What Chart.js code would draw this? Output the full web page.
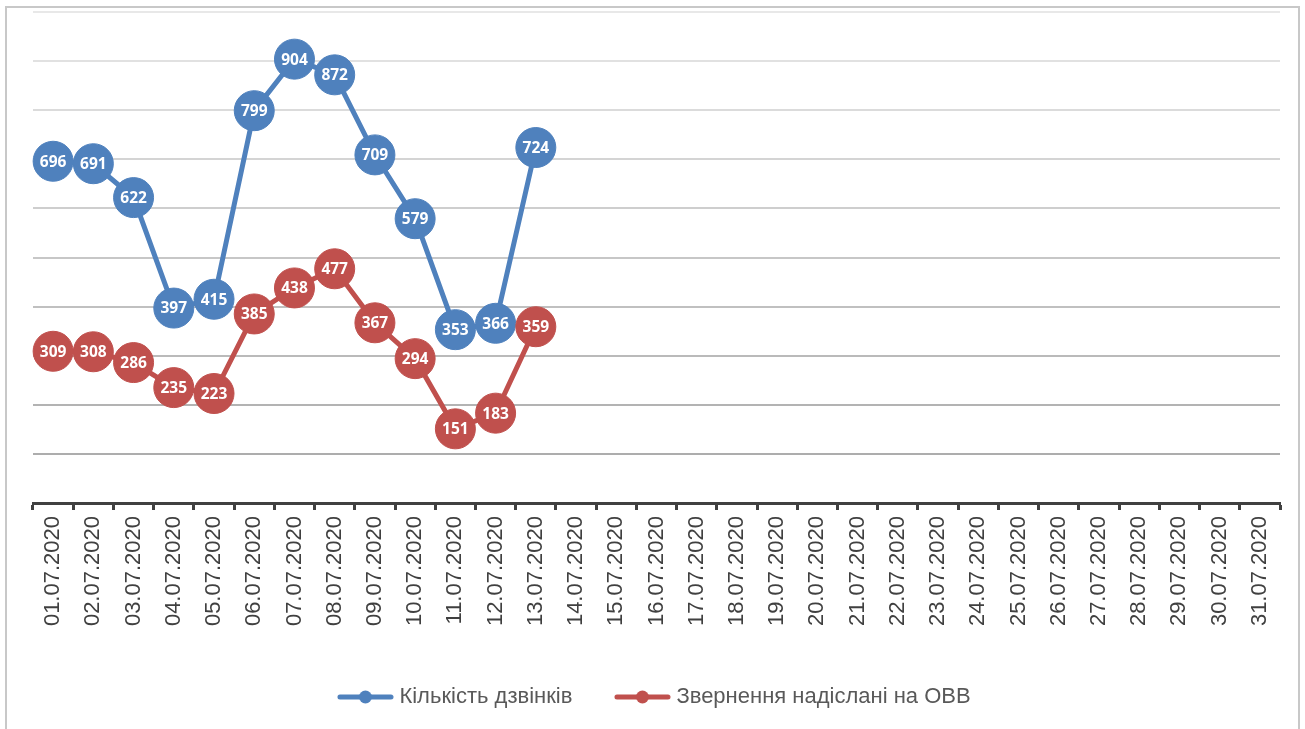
<!DOCTYPE html>
<html>
<head>
<meta charset="utf-8">
<script src="https://cdn.jsdelivr.net/npm/chart.js@4.4.0/dist/chart.umd.min.js"></script>
<style>
  html, body { margin: 0; padding: 0; background: #ffffff; }
  #wrap { position: relative; width: 1305px; height: 729px; overflow: hidden; }
  #frame { position: absolute; left: 5px; top: 6px; width: 1295px; height: 740px; border: 2px solid #c8c8c8; box-sizing: border-box; }
  canvas { position: absolute; left: 0; top: 0; }
</style>
</head>
<body>
<div id="wrap">
  <div id="frame"></div>
  <canvas id="c" width="1305" height="729"></canvas>
</div>
<script>
const categories = [];
for (let d = 1; d <= 31; d++) categories.push((d < 10 ? '0' + d : '' + d) + '.07.2020');

const seriesNames = ['Кількість дзвінків', 'Звернення надіслані на ОВВ'];
const calls = [696, 691, 622, 397, 415, 799, 904, 872, 709, 579, 353, 366, 724];
const referrals = [309, 308, 286, 235, 223, 385, 438, 477, 367, 294, 151, 183, 359];

const blue = '#4f81bd';
const red = '#c0504d';

function pad(arr) {
  const out = arr.slice();
  while (out.length < categories.length) out.push(null);
  return out;
}

function legendMarker(color) {
  const cv = document.createElement('canvas');
  cv.width = 57; cv.height = 16;
  const g = cv.getContext('2d');
  g.strokeStyle = color; g.lineWidth = 5; g.lineCap = 'round';
  g.beginPath(); g.moveTo(3, 8); g.lineTo(54, 8); g.stroke();
  g.fillStyle = color;
  g.beginPath(); g.arc(28.5, 8, 6.5, 0, Math.PI * 2); g.fill();
  return cv;
}
const markers = [legendMarker(blue), legendMarker(red)];

const valueLabels = {
  id: 'valueLabels',
  afterDatasetDraw(chart, args) {
    const ctx = chart.ctx;
    const ds = chart.data.datasets[args.index];
    const meta = args.meta;
    ctx.save();
    ctx.fillStyle = '#ffffff';
    ctx.font = 'bold 15.5px "Open Sans", "Liberation Sans", sans-serif';
    ctx.textAlign = 'center';
    ctx.textBaseline = 'middle';
    meta.data.forEach((pt, i) => {
      const v = ds.data[i];
      if (v === null || v === undefined) return;
      ctx.fillText(String(v), pt.x, pt.y + 1);
    });
    ctx.restore();
  }
};

function gridColor(ctx) {
  const v = ctx.tick ? ctx.tick.value : 0;
  if (v === 0) return 'rgba(0,0,0,0)';
  const t = v / 1000;
  const c = Math.round(166 + (232 - 166) * t);
  return 'rgb(' + c + ',' + c + ',' + c + ')';
}

new Chart(document.getElementById('c'), {
  type: 'line',
  data: {
    labels: categories,
    datasets: [
      {
        label: seriesNames[0],
        data: pad(calls),
        borderColor: blue,
        backgroundColor: blue,
        pointBackgroundColor: blue,
        pointBorderColor: blue,
        borderWidth: 5,
        pointRadius: 20,
        pointBorderWidth: 1,
        pointHoverRadius: 20,
        tension: 0,
        spanGaps: false,
        order: 1
      },
      {
        label: seriesNames[1],
        data: pad(referrals),
        borderColor: red,
        backgroundColor: red,
        pointBackgroundColor: red,
        pointBorderColor: red,
        borderWidth: 5,
        pointRadius: 20,
        pointBorderWidth: 1,
        pointHoverRadius: 20,
        tension: 0,
        spanGaps: false,
        order: 0
      }
    ]
  },
  options: {
    responsive: false,
    animation: false,
    devicePixelRatio: 1,
    layout: { autoPadding: false, padding: { left: 33, right: 25, top: 12, bottom: 11 } },
    plugins: {
      tooltip: { enabled: false },
      legend: {
        position: 'bottom',
        labels: {
          usePointStyle: true,
          pointStyleWidth: 46,
          padding: 47,
          color: '#595959',
          font: { family: '"Liberation Sans", Arial, sans-serif', size: 22 },
          sort: (a, b) => a.datasetIndex - b.datasetIndex,
          generateLabels(chart) {
            const items = Chart.defaults.plugins.legend.labels.generateLabels(chart);
            items.forEach(it => { it.pointStyle = markers[it.datasetIndex]; });
            return items;
          }
        }
      }
    },
    scales: {
      x: {
        offset: true,
        grid: {
          offset: true,
          drawOnChartArea: false,
          drawTicks: true,
          tickLength: 7,
          tickWidth: 3,
          tickColor: '#404040'
        },
        border: { display: true, color: '#404040', width: 3 },
        ticks: {
          autoSkip: false,
          minRotation: 90,
          maxRotation: 90,
          padding: 6,
          color: '#404040',
          font: { family: '"Liberation Sans", Arial, sans-serif', size: 22 }
        },
        afterFit(scale) { scale.height = 136; }
      },
      y: {
        min: 0,
        max: 1000,
        ticks: { display: false, stepSize: 100 },
        grid: { color: gridColor, lineWidth: 2, drawTicks: false },
        border: { display: false },
        afterFit(scale) { scale.width = 0; }
      }
    }
  },
  plugins: [valueLabels]
});
</script>
</body>
</html>
